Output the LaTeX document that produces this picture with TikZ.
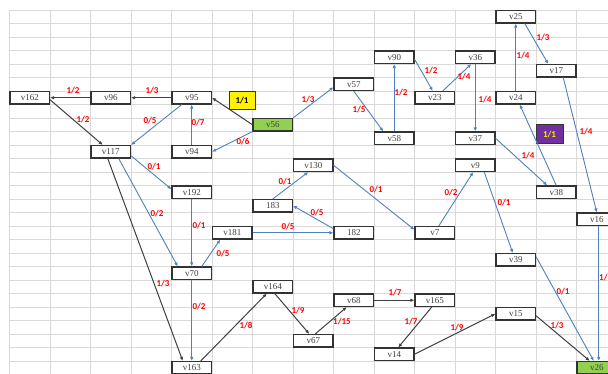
\documentclass[tikz,border=0pt]{standalone}
\usepackage{fontspec}
\setmainfont{Liberation Serif}
\newfontfamily\lblfont{Carlito}
\usetikzlibrary{arrows.meta}

\definecolor{gridgray}{HTML}{D9D9D9}
\definecolor{edgeblue}{HTML}{4F81BD}
\definecolor{edgeblack}{HTML}{404040}
\definecolor{boxgreen}{HTML}{92D050}
\definecolor{boxpurple}{HTML}{7030A0}
\definecolor{txtyellow}{HTML}{FFF200}

\begin{document}
\begin{tikzpicture}[x=1pt,y=-1pt,
    gridline/.style={draw=gridgray, line width=0.9pt},
    cell/.style={draw=black!80, line width=1.1pt, minimum width=39.5pt, minimum height=12.5pt,
      inner sep=0pt, font=\fontsize{9}{10}\selectfont, text=black!75},
    flow/.style={font=\lblfont\bfseries\fontsize{9}{10}\selectfont, text=red, inner sep=0pt},
    bk/.style={draw=edgeblack, line width=1pt, -{Latex[length=4pt,width=3.5pt]}},
    bl/.style={draw=edgeblue, line width=0.9pt, -{Latex[length=4pt,width=3.5pt]}}]
    \useasboundingbox[fill=white] (0,0) rectangle (608,374);

    \foreach \i in {0,...,15}
      \draw[gridline] ({9.5+40.5*\i},10) -- ({9.5+40.5*\i},374);
    \foreach \j in {0,...,27}
      \draw[gridline] (9.5,{10+13.5*\j}) -- (608,{10+13.5*\j});

    \foreach \n/\t/\c/\r/\f in {v162/v162/0/6/white, v96/v96/2/6/white, v95/v95/4/6/white,
        v56/v56/6/8/boxgreen, v94/v94/4/10/white, v117/v117/2/10/white, v57/v57/8/5/white,
        v90/v90/9/3/white, v36/v36/11/3/white, v23/v23/10/6/white, v24/v24/12/6/white,
        v25/v25/12/0/white, v17/v17/13/4/white, v58/v58/9/9/white, v37/v37/11/9/white,
        v9/v9/11/11/white, v38/v38/13/13/white, v16/v16/14/15/white, n182/182/8/16/white,
        v7/v7/10/16/white, v130/v130/7/11/white, n183/183/6/14/white, v181/v181/5/16/white,
        v192/v192/4/13/white, v70/v70/4/19/white, v163/v163/4/26/white, v164/v164/6/20/white,
        v67/v67/7/24/white, v68/v68/8/21/white, v165/v165/10/21/white, v14/v14/9/25/white,
        v15/v15/12/22/white, v39/v39/12/18/white, v26/v26/14/26/boxgreen}
      \node[cell, fill=\f] (\n) at ({29.75+40.5*\c},{16.75+13.5*\r}) {\t};

    \node[draw=black!80, line width=1pt, fill=yellow, minimum width=26pt, minimum height=18pt,
      inner sep=0pt, font=\lblfont\bfseries\fontsize{9}{10}\selectfont] (tag56) at (242,101) {1/1};
    \node[draw=black!80, line width=1pt, fill=boxpurple, text=txtyellow, minimum width=27pt,
      minimum height=19pt, inner sep=0pt, font=\lblfont\bfseries\fontsize{9}{10}\selectfont]
      (tag38) at (549.5,134.5) {1/1};

    \draw[bk] (v95.west) -- (v96.east);
    \draw[bk] (v96.west) -- (v162.east);
    \draw[bk] ([yshift=-2pt]v162.east) -- ([xshift=-8pt]v117.north);
    \draw[bk] (v56.west) -- (v95.east);
    \draw[bk] ([xshift=-3pt]v117.south) -- ([xshift=-9pt]v163.north);
    \draw[bk] ([xshift=9pt]v163.north) -- ([xshift=-6pt]v164.south);
    \draw[bk] ([xshift=2pt]v164.south) -- ([xshift=-4pt]v67.north);
    \draw[bk] ([xshift=2pt]v67.north) -- ([xshift=-7pt]v68.south);
    \draw[bk] (v68.east) -- (v165.west);
    \draw[bk] ([xshift=-3pt]v165.south) -- ([xshift=4pt]v14.north);
    \draw[bk] (v14.east) -- (v15.west);
    \draw[bk] ([yshift=-2pt]v15.east) -- ([xshift=-7pt]v26.north);

    \draw[bl] ([xshift=-10pt]v95.south) -- (v117.north east);
    \draw[bl] (v94.north) -- (v95.south);
    \draw[bl] (v56.south west) -- (v94.east);
    \draw[bl] (v56.north east) -- ([yshift=-3pt]v57.west);
    \draw[bl] (v57.south) -- ([xshift=-11pt]v58.north);
    \draw[bl] (v58.north) -- (v90.south);
    \draw[bl] ([yshift=-2pt]v90.east) -- ([xshift=-2pt]v23.north);
    \draw[bl] ([xshift=8pt]v23.north) -- ([xshift=-4pt]v36.south);
    \draw[bl] (v36.south) -- (v37.north);
    \draw[bl] (v24.north) -- (v25.south);
    \draw[bl] ([xshift=9pt]v25.south) -- ([xshift=-8pt]v17.north);
    \draw[bl] ([xshift=7pt]v17.south) -- (v16.north);
    \draw[bl] (v38.north) -- ([xshift=4pt]v24.south);
    \draw[bl] (v37.east) -- ([xshift=-9pt]v38.north);
    \draw[bl] (v130.east) -- ([yshift=3pt]v7.west);
    \draw[bl] ([xshift=4pt]v7.north) -- ([xshift=-2pt]v9.south);
    \draw[bl] ([xshift=9pt]v9.south) -- ([xshift=-3pt]v39.north);
    \draw[bl] ([yshift=3pt]v39.east) -- ([xshift=-3pt]v26.north);
    \draw[bl] ([xshift=2pt]v16.south) -- ([xshift=2pt]v26.north);
    \draw[bl] ([yshift=-4pt]v117.east) -- ([yshift=3pt]v192.west);
    \draw[bl] ([xshift=8pt]v117.south) -- ([xshift=-14pt]v70.north);
    \draw[bl] (v192.south) -- (v70.north);
    \draw[bl] (v70.south) -- (v163.north);
    \draw[bl] ([xshift=10pt]v70.north) -- ([xshift=-12pt]v181.south);
    \draw[bl] (v181.east) -- (n182.west);
    \draw[bl] ([yshift=4pt]n182.west) -- (n183.east);
    \draw[bl] (n183.north) -- ([xshift=-5pt]v130.south);

    \foreach \t/\x/\y [count=\i] in {{1/2}/73/91, {1/3}/152/91, {1/2}/83/120, {0/5}/150/121,
        {0/7}/198/123, {1/3}/308/100, {0/6}/243/142, {0/1}/154/167, {0/1}/285/182,
        {0/1}/376/190, {0/5}/317/213, {0/5}/288/227, {0/1}/199/226, {0/5}/223/254,
        {0/2}/157/214, {1/3}/163/284, {0/2}/199/307, {1/8}/246/326, {1/9}/298/311,
        {1/15}/342/322, {1/7}/395/293, {1/7}/411/322, {1/9}/457/328, {1/3}/557/326,
        {0/1}/563/292, {0/1}/504/203, {0/2}/451/193, {1/4}/528/156, {1/4}/586/132,
        {1/5}/359/110, {1/2}/401/93, {1/2}/431/71, {1/4}/464/77, {1/4}/485/100,
        {1/4}/523/56, {1/3}/543/38}
      \node[flow] (f\i) at (\x,\y) {\t};
    \node[flow, anchor=west] (f37) at (599,278) {1/};
\end{tikzpicture}
\end{document}
